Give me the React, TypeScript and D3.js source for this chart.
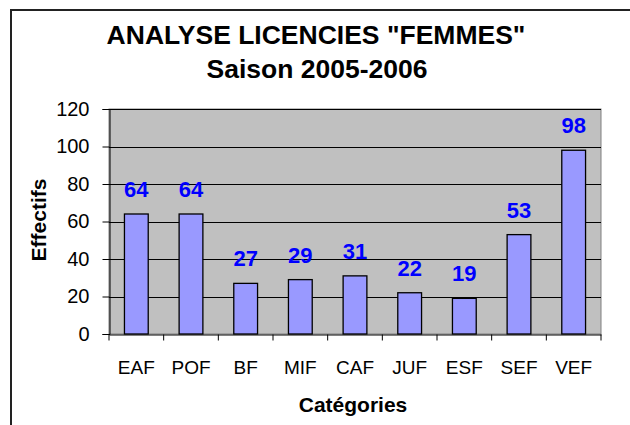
import React, { useEffect, useRef } from 'react';
import * as d3 from 'd3';

const categories = ['EAF', 'POF', 'BF', 'MIF', 'CAF', 'JUF', 'ESF', 'SEF', 'VEF'];
const effectifs = [64, 64, 27, 29, 31, 22, 19, 53, 98];
const yTicks = [0, 20, 40, 60, 80, 100, 120];

const App = () => {
  const ref = useRef<SVGSVGElement>(null);

  useEffect(() => {
    const svg = d3.select(ref.current);
    svg.selectAll('*').remove();

    const width = 630;
    const height = 425;
    const plot = { left: 109, right: 601, top: 109, bottom: 334 };
    const font = "'Liberation Sans', Arial, sans-serif";

    // outer frame (chart is cropped at right and bottom)
    svg.append('path')
      .attr('d', `M11,${height} L11,10 L${width},10`)
      .attr('fill', 'none')
      .attr('stroke', '#222')
      .attr('stroke-width', 2);

    const x = d3.scaleBand()
      .domain(categories)
      .range([plot.left, plot.right])
      .paddingInner(0)
      .paddingOuter(0);

    const y = d3.scaleLinear()
      .domain([0, 120])
      .range([plot.bottom, plot.top]);

    // plot background
    svg.append('rect')
      .attr('x', plot.left)
      .attr('y', plot.top)
      .attr('width', plot.right - plot.left)
      .attr('height', plot.bottom - plot.top)
      .attr('fill', '#C0C0C0')
      .attr('stroke', '#808080')
      .attr('stroke-width', 1);

    // gridlines
    svg.append('g')
      .selectAll('line')
      .data(yTicks.filter(t => t > 0))
      .enter().append('line')
      .attr('x1', plot.left)
      .attr('x2', plot.right)
      .attr('y1', d => Math.round(y(d)) + 0.5)
      .attr('y2', d => Math.round(y(d)) + 0.5)
      .attr('stroke', '#000')
      .attr('stroke-width', 1);

    // bars
    const barW = x.bandwidth() / 2.3;
    svg.append('g')
      .selectAll('rect')
      .data(categories)
      .enter().append('rect')
      .attr('x', d => x(d)! + (x.bandwidth() - barW) / 2)
      .attr('y', (d, i) => y(effectifs[i]))
      .attr('width', barW)
      .attr('height', (d, i) => y(0) - y(effectifs[i]))
      .attr('fill', '#9999FF')
      .attr('stroke', '#000')
      .attr('stroke-width', 1.3);

    // value labels
    svg.append('g')
      .selectAll('text')
      .data(categories)
      .enter().append('text')
      .attr('x', d => x(d)! + x.bandwidth() / 2)
      .attr('y', (d, i) => y(effectifs[i]) - 17)
      .attr('text-anchor', 'middle')
      .attr('font-family', font)
      .attr('font-weight', 'bold')
      .attr('font-size', 22)
      .attr('fill', '#0000FF')
      .text((d, i) => effectifs[i]);

    // y axis
    const yAxis = svg.append('g')
      .attr('transform', `translate(${plot.left + 0.5},0)`)
      .call(d3.axisLeft(y).tickValues(yTicks).tickSize(7).tickPadding(13).tickSizeOuter(7));
    yAxis.select('.domain').attr('stroke', '#000');
    yAxis.selectAll('text')
      .attr('font-family', font)
      .attr('font-size', 20)
      .attr('fill', '#000');

    // x axis
    const xAxis = svg.append('g')
      .attr('transform', `translate(0,${plot.bottom + 0.5})`)
      .call(d3.axisBottom(x).tickSize(0).tickPadding(26));
    xAxis.select('.domain').attr('stroke', '#000');
    xAxis.selectAll('text')
      .attr('font-family', font)
      .attr('font-size', 19)
      .attr('fill', '#000');
    xAxis.selectAll('.boundary')
      .data(d3.range(categories.length + 1))
      .enter().append('line')
      .attr('class', 'boundary')
      .attr('x1', i => plot.left + i * x.step())
      .attr('x2', i => plot.left + i * x.step())
      .attr('y1', 0)
      .attr('y2', 6)
      .attr('stroke', '#000');

    // titles
    const title = svg.append('text')
      .attr('text-anchor', 'middle')
      .attr('font-family', font)
      .attr('font-weight', 'bold')
      .attr('font-size', 26.5)
      .attr('fill', '#000');
    title.append('tspan').attr('x', 316).attr('y', 44).text('ANALYSE LICENCIES "FEMMES"');
    title.append('tspan').attr('x', 317).attr('y', 78).text('Saison 2005-2006');

    svg.append('text')
      .attr('x', 353)
      .attr('y', 412)
      .attr('text-anchor', 'middle')
      .attr('font-family', font)
      .attr('font-weight', 'bold')
      .attr('font-size', 21)
      .text('Catégories');

    svg.append('text')
      .attr('transform', 'translate(46,220) rotate(-90)')
      .attr('text-anchor', 'middle')
      .attr('font-family', font)
      .attr('font-weight', 'bold')
      .attr('font-size', 21)
      .text('Effectifs');
  }, []);

  return (
    <svg
      ref={ref}
      width={630}
      height={425}
      style={{ position: 'absolute', left: 0, top: 0, background: '#fff' }}
    />
  );
};

export default App;
